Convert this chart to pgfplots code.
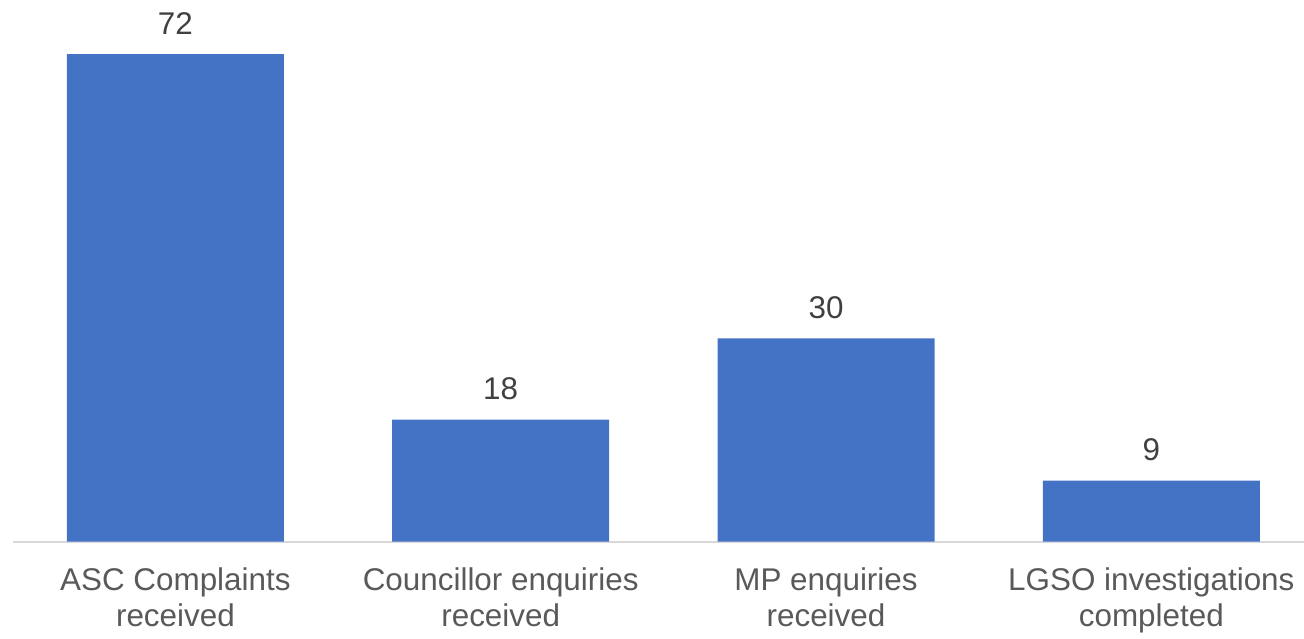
\documentclass[border=0pt]{standalone}
\usepackage{pgfplots}
\pgfplotsset{compat=1.18}
\usepackage{fontspec}
\setmainfont{Liberation Sans}
\definecolor{barblue}{HTML}{4472C4}
\definecolor{axisgray}{HTML}{D9D9D9}
\definecolor{valtext}{HTML}{404040}
\definecolor{ticktext}{HTML}{595959}
\begin{document}
\begin{tikzpicture}
\useasboundingbox (0,0) rectangle (652pt,319pt);
\begin{axis}[
  at={(6.375pt,48.25pt)}, anchor=south west,
  scale only axis,
  width=650.6pt, height=270.8pt,
  xmin=-0.5, xmax=3.5, ymin=0, ymax=80,
  axis x line=bottom, axis y line=none,
  x axis line style={-, color=axisgray, line width=1pt},
  ytick=\empty,
  xtick=data,
  xticklabels={{ASC Complaints\\received},{Councillor enquiries\\received},{MP enquiries\\received},{LGSO investigations\\completed}},
  major tick length=0pt,
  xticklabel style={align=center, inner sep=0pt, yshift=-13pt, font=\fontsize{15.7}{18}\selectfont, text=ticktext},
  /pgf/number format/assume math mode=true,
  ybar, bar width=108.5pt,
  nodes near coords,
  every node near coord/.append style={inner sep=0pt, yshift=9.5pt, font=\fontsize{15.7}{18}\selectfont, text=valtext},
  clip=false,
]
\addplot[fill=barblue, draw=none] coordinates {(0,72) (1,18) (2,30) (3,9)};
\end{axis}
\end{tikzpicture}
\end{document}
